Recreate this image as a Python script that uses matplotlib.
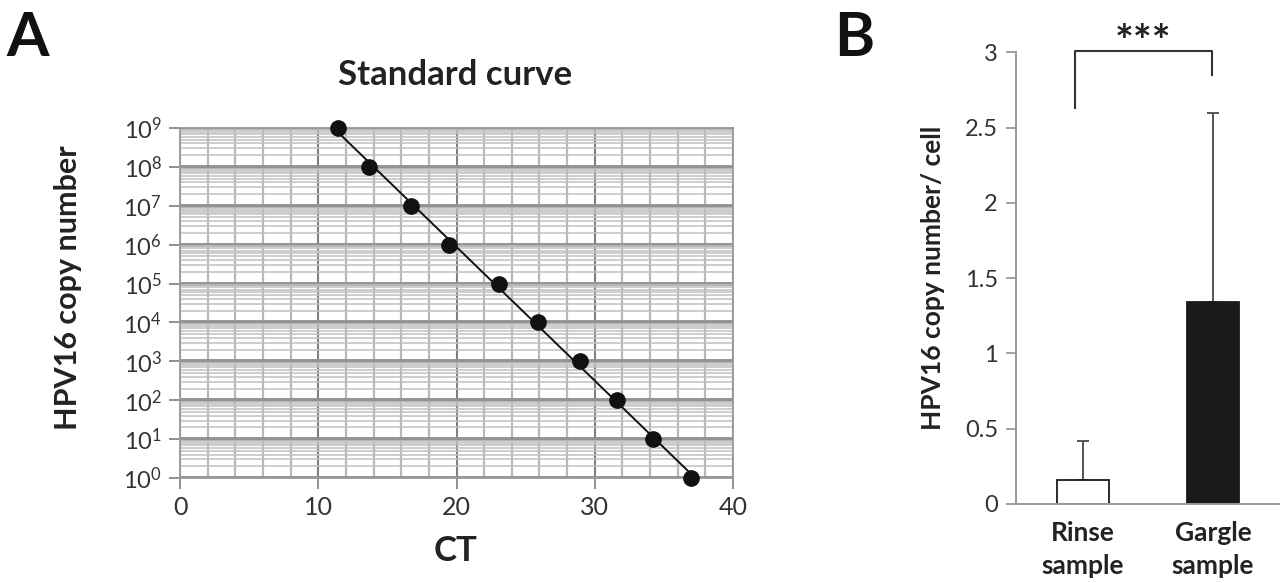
import numpy as np
import matplotlib
matplotlib.use("Agg")
import matplotlib.pyplot as plt
from matplotlib.ticker import MultipleLocator, LogLocator, NullFormatter

plt.rcParams['font.family'] = ['Lato', 'DejaVu Sans']
plt.rcParams['mathtext.fontset'] = 'custom'
plt.rcParams['mathtext.rm'] = 'Lato'
plt.rcParams['mathtext.it'] = 'Lato'
plt.rcParams['mathtext.bf'] = 'Lato:bold'

# ---- Panel A data: standard curve ----
ct_values = [11.4, 13.7, 16.7, 19.45, 23.1, 25.9, 28.9, 31.6, 34.2, 36.95]
copy_exponents = [9, 8, 7, 6, 5, 4, 3, 2, 1, 0]
x_ticks_A = [0, 10, 20, 30, 40]

# ---- Panel B data ----
groups = ["Rinse\nsample", "Gargle\nsample"]
means = [0.16, 1.34]
upper_err = [0.26, 1.26]
y_ticks_B = [0, 0.5, 1, 1.5, 2, 2.5, 3]
y_labels_B = ["0", "0.5", "1", "1.5", "2", "2.5", "3"]

W, H = 1280, 583
fig = plt.figure(figsize=(W / 100, H / 100), dpi=100)

# ================= Panel A =================
axA = fig.add_axes([180 / W, 1 - 478 / H, 553 / W, 350 / H])
copies = [10.0 ** e for e in copy_exponents]
axA.set_yscale('log')
axA.set_xlim(0, 40)
axA.set_ylim(1, 1e9)

axA.set_xticks(x_ticks_A)
axA.set_xticklabels([str(v) for v in x_ticks_A], fontsize=18, color='#333')
axA.xaxis.set_minor_locator(MultipleLocator(2))
axA.set_yticks([10.0 ** e for e in range(10)])
axA.set_yticklabels([r'$\mathregular{10^{%d}}$' % e for e in range(10)],
                    fontsize=17, color='#333')
axA.yaxis.set_minor_locator(LogLocator(base=10, subs=np.arange(2, 10), numticks=50))
axA.yaxis.set_minor_formatter(NullFormatter())

axA.grid(which='minor', axis='x', color='#b8b8b8', lw=1.6)
axA.grid(which='major', axis='x', color='#808080', lw=1.5)
axA.grid(which='minor', axis='y', color='#c0c0c0', lw=1.1)
axA.grid(which='major', axis='y', color='#939393', lw=2.8)
axA.set_axisbelow(True)

axA.tick_params(axis='both', which='major', direction='out', length=8,
                color='#888', width=1.3, pad=5)
axA.tick_params(axis='both', which='minor', length=0)
for s in axA.spines.values():
    s.set_color('#999')
    s.set_linewidth(1.3)

# trend line (least squares fit of log10 copies vs CT)
slope, intercept = np.polyfit(ct_values, copy_exponents, 1)
xs = np.array([min(ct_values), max(ct_values)])
axA.plot(xs, 10 ** (slope * xs + intercept), color='#111', lw=1.4, zorder=3)
axA.plot(ct_values, copies, 'o', color='#111', ms=11, zorder=4, clip_on=False)

fig.text(455 / W, 1 - 75 / H, "Standard curve", fontsize=25, fontweight='bold',
         ha='center', va='center', color='#222')
fig.text(456 / W, 1 - 551 / H, "CT", fontsize=25, fontweight='bold',
         ha='center', va='center', color='#222')
fig.text(68 / W, 1 - 288 / H, "HPV16 copy number", fontsize=22, fontweight='bold',
         ha='center', va='center', rotation=90, color='#222')
fig.text(6 / W, 1 - 38 / H, "A", fontsize=44, fontweight='bold',
         ha='left', va='center', color='#111')

# ================= Panel B =================
axB = fig.add_axes([1016 / W, 1 - 504 / H, 264 / W, (504 - 52.3) / H])
xpos = np.arange(len(groups))
axB.bar(xpos, means, width=0.4, color=['white', '#1a1a1a'],
        edgecolor='#1a1a1a', linewidth=1.3, zorder=2)
axB.errorbar(xpos, means, yerr=[[0] * len(means), upper_err], fmt='none',
             ecolor='#555', elinewidth=1.4, capsize=4, capthick=1.4, zorder=1)
axB.set_xlim(-0.515, 1.515)
axB.set_ylim(0, 3)
axB.set_yticks(y_ticks_B)
axB.set_yticklabels(y_labels_B, fontsize=17, color='#333')
axB.set_xticks(xpos)
axB.set_xticklabels(groups, fontsize=19, fontweight='bold', color='#222',
                    linespacing=1.45)
axB.tick_params(axis='x', length=0, pad=12)
axB.tick_params(axis='y', direction='out', length=7, color='#999', width=1.3, pad=6)
for side in ['top', 'right']:
    axB.spines[side].set_visible(False)
for side in ['left', 'bottom']:
    axB.spines[side].set_color('#999')
    axB.spines[side].set_linewidth(1.4)
axB.set_ylabel("HPV16 copy number/ cell", fontsize=19, fontweight='bold',
               color='#222', labelpad=14)

# significance bracket
axB.plot([-0.06, -0.06, 0.99, 0.99], [2.63, 3.01, 3.01, 2.85], color='#333',
         lw=1.5, clip_on=False)
axB.text(0.465, 2.93, "***", fontsize=32, fontweight='bold', ha='center',
         va='bottom', color='#222', clip_on=False)

fig.text(834 / W, 1 - 38 / H, "B", fontsize=44, fontweight='bold',
         ha='left', va='center', color='#111')

fig.savefig("out.png", dpi=100, facecolor='white')
